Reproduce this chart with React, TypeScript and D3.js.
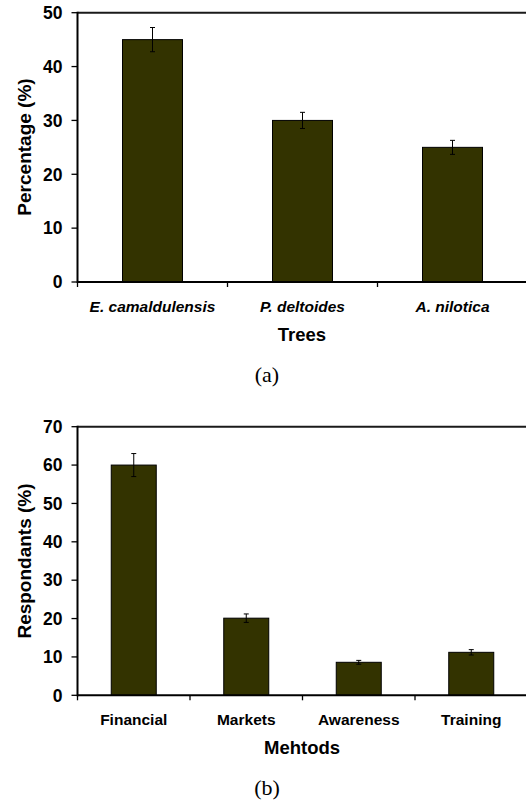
import React from "react";
import * as d3 from "d3";

const treeCategories = ["E. camaldulensis", "P. deltoides", "A. nilotica"];
const treeValues = [45, 30, 25];
const treeErrors = [2.25, 1.5, 1.3];
const treeTicks = [0, 10, 20, 30, 40, 50];

const methodCategories = ["Financial", "Markets", "Awareness", "Training"];
const methodValues = [60, 20.1, 8.6, 11.2];
const methodErrors = [3, 1.1, 0.5, 0.7];
const methodTicks = [0, 10, 20, 30, 40, 50, 60, 70];

const SANS = "'Liberation Sans', Arial, Helvetica, sans-serif";
const SERIF = "'Liberation Serif', 'Times New Roman', serif";
const BAR = "#333300";

type PanelProps = {
  cats: string[];
  values: number[];
  errors: number[];
  ticks: number[];
  yMax: number;
  top: number;
  bottom: number;
  yTitle: string;
  xTitle: string;
  caption: string;
  italic: boolean;
  yTitleCenter: number;
};

function Panel(p: PanelProps) {
  const left = 77.5;
  const right = 527.5;
  const x = d3
    .scaleBand<string>()
    .domain(p.cats)
    .range([left, right])
    .paddingInner(0.6)
    .paddingOuter(0.3);
  const y = d3.scaleLinear().domain([0, p.yMax]).range([p.bottom, p.top]);
  const step = x.step();
  const bw = x.bandwidth();
  const boundaries = d3.range(p.cats.length + 1).map((i) => left + i * step);
  return (
    <g>
      {/* frame */}
      <line x1={left} x2={right} y1={p.top} y2={p.top} stroke="#1a1a1a" strokeWidth={2} />
      <line x1={right} x2={right} y1={p.top} y2={p.bottom} stroke="#1a1a1a" strokeWidth={2} />
      {/* bars */}
      {p.cats.map((c, i) => {
        const x0 = x(c)!;
        const cx = x0 + bw / 2;
        const v = p.values[i];
        const e = p.errors[i];
        return (
          <g key={c}>
            <rect
              x={x0}
              y={y(v)}
              width={bw}
              height={y(0) - y(v)}
              fill={BAR}
              stroke="#000"
              strokeWidth={1}
            />
            <line x1={cx} x2={cx} y1={y(v + e)} y2={y(v - e)} stroke="#000" strokeWidth={1} />
            <line x1={cx - 2.5} x2={cx + 2.5} y1={y(v + e)} y2={y(v + e)} stroke="#000" strokeWidth={1} />
            <line x1={cx - 2.5} x2={cx + 2.5} y1={y(v - e)} y2={y(v - e)} stroke="#000" strokeWidth={1} />
          </g>
        );
      })}
      {/* y axis */}
      <line x1={left} x2={left} y1={p.top - 1} y2={p.bottom + 1} stroke="#000" strokeWidth={2} />
      {p.ticks.map((t) => (
        <g key={t}>
          <line x1={left - 6} x2={left} y1={y(t)} y2={y(t)} stroke="#000" strokeWidth={1.3} />
          <text
            x={62.5}
            y={y(t)}
            dy="0.36em"
            textAnchor="end"
            fontFamily={SANS}
            fontWeight="bold"
            fontSize={17.5}
            fill="#000"
          >
            {t}
          </text>
        </g>
      ))}
      {/* x axis */}
      <line x1={left} x2={right} y1={p.bottom} y2={p.bottom} stroke="#000" strokeWidth={2} />
      {boundaries.map((b, i) => (
        <line key={i} x1={b} x2={b} y1={p.bottom} y2={p.bottom + 5} stroke="#000" strokeWidth={1.3} />
      ))}
      {p.cats.map((c) => (
        <text
          key={c}
          x={x(c)! + bw / 2}
          y={p.bottom + 30}
          textAnchor="middle"
          fontFamily={SANS}
          fontWeight="bold"
          fontStyle={p.italic ? "italic" : "normal"}
          fontSize={15.5}
          fill="#000"
        >
          {c}
        </text>
      ))}
      <text
        x={(left + right) / 2 - 0.5 * 0 + (302 - (left + right) / 2)}
        y={p.bottom + 59}
        textAnchor="middle"
        fontFamily={SANS}
        fontWeight="bold"
        fontSize={18.5}
        fill="#000"
      >
        {p.xTitle}
      </text>
      <text
        transform={`translate(30.7,${p.yTitleCenter}) rotate(-90)`}
        textAnchor="middle"
        fontFamily={SANS}
        fontWeight="bold"
        fontSize={19}
        fill="#000"
      >
        {p.yTitle}
      </text>
      <text
        x={267}
        y={p.bottom + 99.5}
        textAnchor="middle"
        fontFamily={SERIF}
        fontSize={22}
        fill="#000"
      >
        {p.caption}
      </text>
    </g>
  );
}

export default function App() {
  return (
    <svg
      width={526}
      height={801}
      style={{ position: "absolute", left: 0, top: 0, background: "#fff" }}
    >
      <rect x={0} y={0} width={526} height={801} fill="#fff" />
      <Panel
        cats={treeCategories}
        values={treeValues}
        errors={treeErrors}
        ticks={treeTicks}
        yMax={50}
        top={12.7}
        bottom={282}
        yTitle="Percentage (%)"
        xTitle="Trees"
        caption="(a)"
        italic={true}
        yTitleCenter={147}
      />
      <Panel
        cats={methodCategories}
        values={methodValues}
        errors={methodErrors}
        ticks={methodTicks}
        yMax={70}
        top={426.7}
        bottom={695.3}
        yTitle="Respondants (%)"
        xTitle="Mehtods"
        caption="(b)"
        italic={false}
        yTitleCenter={561}
      />
    </svg>
  );
}
